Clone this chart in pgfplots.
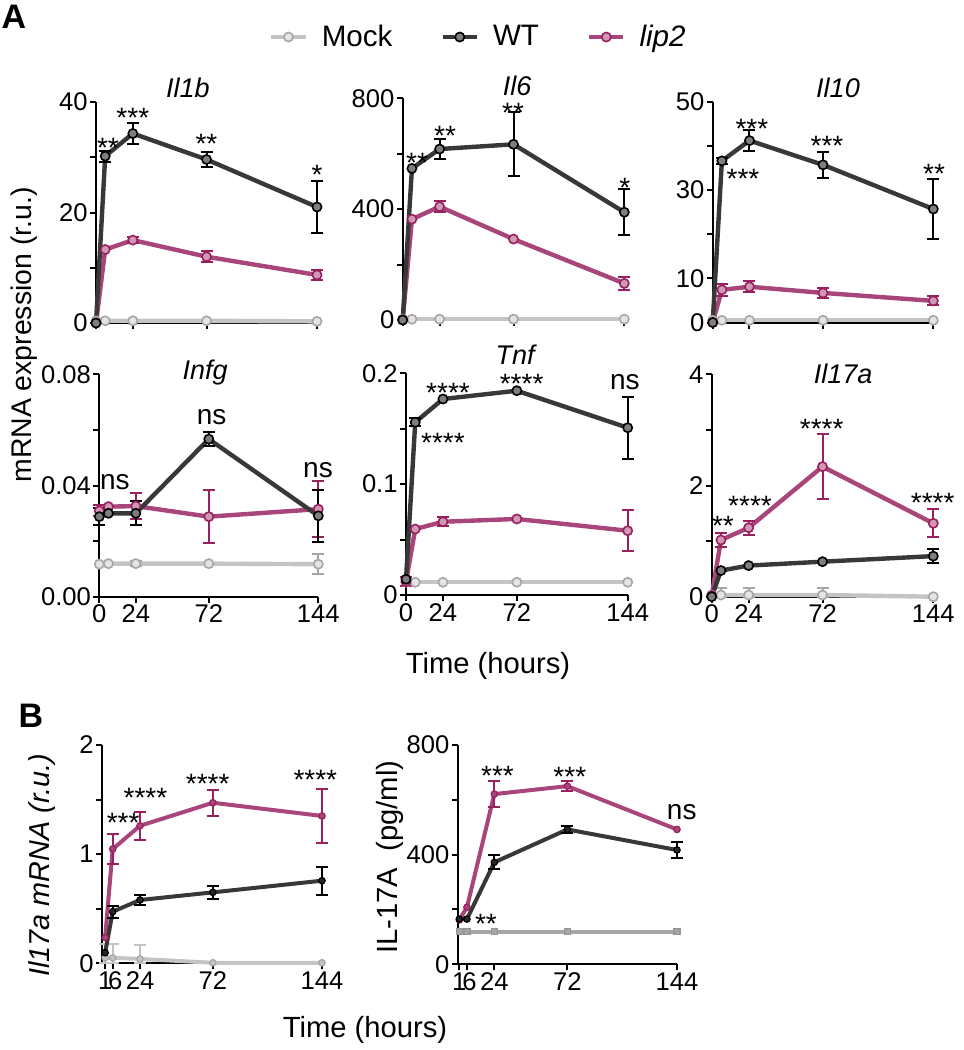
\documentclass[border=0pt]{standalone}
\usepackage{fontspec}
\setmainfont{Liberation Sans}
\usepackage{pgfplots}
\pgfplotsset{compat=1.18}
\definecolor{lipc}{HTML}{A8457A}
\definecolor{lipd}{HTML}{9A1F5E}
\definecolor{wtc}{HTML}{383838}
\definecolor{mockc}{HTML}{C4C4C4}
\definecolor{mockd}{HTML}{A6A6A6}
\newcommand\tl{\fontsize{12.8}{14}\selectfont}
\newcommand\ttl{\itshape\fontsize{13.5}{15}\selectfont}
\tikzset{
  st/.style={font=\fontsize{14}{14}\selectfont, inner sep=0pt, yshift=-3pt},
  ns/.style={font=\fontsize{14}{14}\selectfont, inner sep=0pt},
}
\pgfplotsset{
  panel/.style={scale only axis, clip=false, anchor=south west,
    axis x line*=bottom, axis y line*=left,
    axis line style={line width=1pt, black},
    tick align=outside, major tick length=3pt,
    tick style={line width=1pt, black},
    tick label style={font=\tl, inner sep=1pt},
    scaled y ticks=false,
    /pgf/number format/assume math mode=true,
    xmin=0, xmax=144, xtick={0,24,72,144}, ymin=0},
  mockA/.style={mockc, line width=2.2pt, mark=*, mark size=2.3pt, mark options={draw=mockd, fill=mockc!45!white, line width=0.8pt}},
  wtA/.style={wtc, line width=2.2pt, mark=*, mark size=2.3pt, mark options={draw=black, fill=wtc!65!white, line width=0.8pt}},
  lipA/.style={lipc, line width=2.2pt, mark=*, mark size=2.3pt, mark options={draw=lipd, fill=lipc!55!white, line width=0.8pt}},
  mockB/.style={mockc, line width=2pt, mark=*, mark size=1.6pt, mark options={draw=mockd, fill=mockc, line width=0.6pt}},
  mockS/.style={mockd, line width=2pt, mark=square*, mark size=1.5pt, mark options={draw=mockd!90!black, fill=mockd, line width=0.6pt}},
  wtB/.style={wtc, line width=2pt, mark=*, mark size=1.6pt, mark options={draw=black, fill=black!85, line width=0.6pt}},
  lipB/.style={lipc, line width=2pt, mark=*, mark size=1.6pt, mark options={draw=lipd, fill=lipc, line width=0.6pt}},
  errp/.style={forget plot, draw=none, mark=none,
    error bars/.cd, y dir=both, y explicit, error mark=-,
    error bar style={draw=#1, line width=1pt},
    error mark options={rotate=90, draw=#1, mark size=3pt, line width=1pt}},
}
\begin{document}
\begin{tikzpicture}
\useasboundingbox (0,0) rectangle (482pt,-525pt);
% ---------- Il1b ----------
\begin{axis}[panel, at={(48pt,-161.5pt)}, width=110.5pt, height=110.5pt,
  ymax=40, ytick={0,10,20,30,40}, yticklabels={0,,20,,40}, xticklabels={},
  legend columns=3, legend cell align=left,
  legend style={at={(1.735,1.294)}, anchor=center, draw=none, fill=none,
    font=\fontsize{14.8}{16}\selectfont,
    /tikz/every even column/.append style={column sep=22pt}}]
\addlegendimage{mockA}\addlegendentry{\hspace{5pt}Mock}
\addlegendimage{wtA}\addlegendentry{\hspace{5pt}WT}
\addlegendimage{lipA}\addlegendentry{\hspace{5pt}\itshape lip2}
\addplot[mockA, forget plot] coordinates {(0,0.4)(6,0.4)(24,0.4)(72,0.4)(144,0.3)};
\addplot[lipA, forget plot] coordinates {(0,0)(6,13.3)(24,15.0)(72,12.0)(144,8.7)};
\addplot[errp=lipd] coordinates {(24,15.0)+-(0,0.5) (72,12.0)+-(0,1.0) (144,8.7)+-(0,0.9)};
\addplot[wtA, forget plot] coordinates {(0,0)(6,30.2)(24,34.3)(72,29.6)(144,21.0)};
\addplot[errp=black] coordinates {(6,30.2)+-(0,1.0) (24,34.3)+-(0,1.9) (72,29.6)+-(0,1.4) (144,21.0)+-(0,4.7)};
\node[st] at (axis cs:7.8,32.8) {**};
\node[st] at (axis cs:24,38.2) {***};
\node[st] at (axis cs:72,33.5) {**};
\node[st] at (axis cs:144,27.9) {*};
\node[font=\ttl] at (rel axis cs:0.416,1.063) {Il1b};
\end{axis}
% ---------- Il6 ----------
\begin{axis}[panel, at={(201.35pt,-160pt)}, width=110.8pt, height=110.85pt,
  ymax=800, ytick={0,200,400,600,800}, yticklabels={0,,400,,800}, xticklabels={}]
\addplot[mockA] coordinates {(0,3)(6,3)(24,3)(72,3)(144,3)};
\addplot[lipA] coordinates {(0,0)(6,364)(24,409)(72,292)(144,132)};
\addplot[errp=lipd] coordinates {(24,409)+-(0,21) (144,132)+-(0,22)};
\addplot[wtA] coordinates {(0,0)(6,547)(24,617)(72,634)(144,389)};
\addplot[errp=black] coordinates {(24,617)+-(0,35) (72,634)+-(0,116) (144,389)+-(0,83)};
\node[st] at (axis cs:9.3,589) {**};
\node[st] at (axis cs:27.5,686) {**};
\node[st] at (axis cs:71.7,769) {**};
\node[st] at (axis cs:144.4,498) {*};
\node[font=\ttl] at (rel axis cs:0.516,1.055) {Il6};
\end{axis}
% ---------- Il10 ----------
\begin{axis}[panel, at={(356.35pt,-161.25pt)}, width=110.3pt, height=110.4pt,
  ymax=50, ytick={0,10,20,30,40,50}, yticklabels={0,10,,30,,50}, xticklabels={}]
\addplot[mockA] coordinates {(0,0.5)(6,0.5)(24,0.5)(72,0.5)(144,0.5)};
\addplot[lipA] coordinates {(0,0)(6,7.4)(24,8.1)(72,6.7)(144,4.9)};
\addplot[errp=lipd] coordinates {(6,7.4)+-(0,1.4) (24,8.1)+-(0,1.2) (72,6.7)+-(0,1.2) (144,4.9)+-(0,1.0)};
\addplot[wtA] coordinates {(0,0)(6,36.6)(24,41.2)(72,35.7)(144,25.7)};
\addplot[errp=black] coordinates {(6,36.6)+-(0,0.7) (24,41.2)+-(0,2.3) (72,35.7)+-(0,3.0) (144,25.7)+-(0,6.9)};
\node[st] at (axis cs:25.6,45.2) {***};
\node[st] at (axis cs:19.8,33.9) {***};
\node[st] at (axis cs:74.6,41.3) {***};
\node[st] at (axis cs:144.5,35.0) {**};
\node[font=\ttl] at (rel axis cs:0.568,1.062) {Il10};
\end{axis}
% ---------- Infg ----------
\begin{axis}[panel, at={(49.65pt,-298.35pt)}, width=109.5pt, height=111.2pt,
  ymax=0.08, ytick={0,0.02,0.04,0.06,0.08}, yticklabels={0.00,,0.04,,0.08}, xticklabels={0,24,72,144}]
\addplot[mockA] coordinates {(0,0.0117)(6,0.0119)(24,0.0119)(72,0.0119)(144,0.0117)};
\addplot[errp=mockd] coordinates {(24,0.0119)+-(0,0.0008) (144,0.0117)+-(0,0.0035)};
\addplot[lipA] coordinates {(0,0.0309)(6,0.0324)(24,0.0326)(72,0.0288)(144,0.0315)};
\addplot[errp=lipd] coordinates {(0,0.0309)+-(0,0.002) (24,0.0326)+-(0,0.0048) (72,0.0288)+-(0,0.0096) (144,0.0315)+-(0,0.010)};
\addplot[wtA] coordinates {(0,0.0288)(6,0.030)(24,0.030)(72,0.0567)(144,0.0291)};
\addplot[errp=black] coordinates {(0,0.0288)+-(0,0.003) (24,0.030)+-(0,0.0043) (72,0.0567)+-(0,0.0025) (144,0.0291)+-(0,0.0093)};
\node[ns] at (axis cs:10.3,0.0414) {ns};
\node[ns] at (axis cs:73.9,0.0646) {ns};
\node[ns] at (axis cs:143.8,0.0456) {ns};
\node[font=\ttl] at (rel axis cs:0.483,1.006) {Infg};
\end{axis}
% ---------- Tnf ----------
\begin{axis}[panel, at={(203pt,-297.5pt)}, width=110.85pt, height=110.85pt,
  ymax=0.2, ytick={0,0.05,0.1,0.15,0.2}, yticklabels={0,,0.1,,0.2}, xticklabels={0,24,72,144}]
\addplot[mockA] coordinates {(0,0.0115)(6,0.0115)(24,0.0115)(72,0.0115)(144,0.0115)};
\addplot[lipA] coordinates {(0,0.012)(6,0.0595)(24,0.0661)(72,0.0686)(144,0.058)};
\addplot[errp=lipd] coordinates {(0,0.012)+-(0,0.004) (24,0.0661)+-(0,0.004) (144,0.058)+-(0,0.0185)};
\addplot[wtA] coordinates {(0,0.0142)(6,0.1558)(24,0.1768)(72,0.1843)(144,0.1509)};
\addplot[errp=black] coordinates {(6,0.1558)+-(0,0.0035) (144,0.1509)+-(0,0.028)};
\node[st] at (axis cs:27.3,0.188) {****};
\node[st] at (axis cs:24,0.1428) {****};
\node[st] at (axis cs:75.1,0.196) {****};
\node[ns] at (axis cs:142.2,0.192) {ns};
\node[font=\ttl] at (rel axis cs:0.492,1.083) {Tnf};
\end{axis}
% ---------- Il17a ----------
\begin{axis}[panel, at={(355.85pt,-298.35pt)}, width=110.8pt, height=111.2pt,
  ymax=4, ytick={0,1,2,3,4}, yticklabels={0,,2,,4}, xticklabels={0,24,72,144}]
\addplot[mockA] coordinates {(0,0.03)(6,0.03)(24,0.03)(72,0.03)(144,0.0)};
\addplot[errp=mockd] coordinates {(6,0.03)+=(0,0.12)-=(0,0.03) (24,0.03)+=(0,0.12)-=(0,0.03) (72,0.03)+=(0,0.12)-=(0,0.03)};
\addplot[lipA] coordinates {(0,0.02)(6,1.02)(24,1.24)(72,2.34)(144,1.32)};
\addplot[errp=lipd] coordinates {(6,1.02)+-(0,0.13) (24,1.24)+-(0,0.13) (72,2.34)+-(0,0.58) (144,1.32)+-(0,0.25)};
\addplot[wtA] coordinates {(0,0)(6,0.47)(24,0.56)(72,0.63)(144,0.73)};
\addplot[errp=black] coordinates {(144,0.73)+-(0,0.13)};
\node[st] at (axis cs:7.3,1.38) {**};
\node[st] at (axis cs:24.9,1.74) {****};
\node[st] at (axis cs:71.5,3.12) {****};
\node[st] at (axis cs:143.6,1.80) {****};
\node[font=\ttl] at (rel axis cs:0.593,1.001) {Il17a};
\end{axis}
% ---------- B1 ----------
\begin{axis}[panel, at={(51.05pt,-481.65pt)}, width=109.95pt, height=109.15pt,
  xmin=-1, xtick={1,6,24,72,144}, xticklabels={1\hspace{2pt},\hspace{2.5pt}6,24,72,144},
  ymax=2, ytick={0,0.5,1,1.5,2}, yticklabels={0,,1,,2}]
\addplot[mockB] coordinates {(1,0.05)(6,0.05)(24,0.04)(72,0.005)(144,0.005)};
\addplot[errp=mockc] coordinates {(1,0.05)+=(0,0.13)-=(0,0.05) (6,0.05)+=(0,0.13)-=(0,0.05) (24,0.04)+=(0,0.13)-=(0,0.04)};
\addplot[lipB] coordinates {(1,0.235)(6,1.047)(24,1.26)(72,1.471)(144,1.35)};
\addplot[errp=lipd] coordinates {(6,1.047)+-(0,0.135) (24,1.26)+-(0,0.13) (72,1.471)+-(0,0.117) (144,1.35)+-(0,0.25)};
\addplot[wtB] coordinates {(1,0.097)(6,0.473)(24,0.58)(72,0.65)(144,0.757)};
\addplot[errp=black] coordinates {(6,0.473)+-(0,0.055) (24,0.58)+-(0,0.05) (72,0.65)+-(0,0.06) (144,0.757)+-(0,0.127)};
\node[st] at (axis cs:12.9,1.343) {***};
\node[st] at (axis cs:27.6,1.572) {****};
\node[st] at (axis cs:68.6,1.695) {****};
\node[st] at (axis cs:139.6,1.74) {****};
\end{axis}
% ---------- B2 ----------
\begin{axis}[panel, at={(228.9pt,-482.15pt)}, width=109.6pt, height=109.65pt,
  xmin=0, xtick={1,6,24,72,144}, xticklabels={1\hspace{2pt},\hspace{2.5pt}6,24,72,144},
  ymax=800, ytick={0,200,400,600,800}, yticklabels={0,,400,,800}]
\addplot[mockS] coordinates {(1,119)(6,119)(24,119)(72,119)(144,119)};
\addplot[lipB] coordinates {(1,162)(6,208)(24,621)(72,650)(144,492)};
\addplot[errp=lipd] coordinates {(24,621)+-(0,46) (72,650)+-(0,18)};
\addplot[wtB] coordinates {(1,165)(6,165)(24,372)(72,492)(144,417)};
\addplot[errp=black] coordinates {(24,372)+-(0,26) (72,492)+-(0,12) (144,417)+-(0,30)};
\node[st] at (axis cs:18.5,168) {**};
\node[st] at (axis cs:26.1,709) {***};
\node[st] at (axis cs:73.6,705) {***};
\node[ns] at (axis cs:147.1,557) {ns};
\end{axis}
% ---------- labels ----------
\node[font=\bfseries\fontsize{17}{18}\selectfont] at (7pt,-8.5pt) {A};
\node[font=\bfseries\fontsize{17}{18}\selectfont] at (15.5pt,-358pt) {B};
\node[rotate=90, font=\fontsize{14.2}{16}\selectfont] at (12pt,-167.5pt) {mRNA expression (r.u.)};
\node[font=\fontsize{14.6}{16}\selectfont] at (244pt,-333pt) {Time (hours)};
\node[rotate=90, font=\itshape\fontsize{14.4}{16}\selectfont] at (21pt,-432.5pt) {Il17a mRNA (r.u.)};
\node[rotate=90, font=\fontsize{14.6}{16}\selectfont] at (195pt,-428.5pt) {IL-17A\ \ (pg/ml)};
\node[font=\fontsize{14.6}{16}\selectfont] at (182.5pt,-515pt) {Time (hours)};
\end{tikzpicture}
\end{document}
